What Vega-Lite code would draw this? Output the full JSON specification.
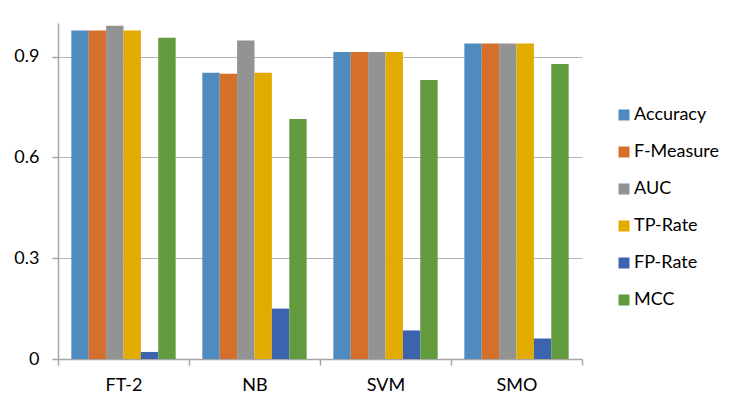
{
  "$schema": "https://vega.github.io/schema/vega-lite/v6.json",
  "width": 524,
  "height": 336,
  "autosize": {"type": "none"},
  "padding": {"left": 58, "top": 23, "right": 159, "bottom": 52},
  "background": "white",
  "data": {
    "values": [
      {"model": "FT-2", "metric": "Accuracy", "value": 0.978},
      {"model": "FT-2", "metric": "F-Measure", "value": 0.978},
      {"model": "FT-2", "metric": "AUC", "value": 0.992},
      {"model": "FT-2", "metric": "TP-Rate", "value": 0.978},
      {"model": "FT-2", "metric": "FP-Rate", "value": 0.021},
      {"model": "FT-2", "metric": "MCC", "value": 0.956},
      {"model": "NB", "metric": "Accuracy", "value": 0.852},
      {"model": "NB", "metric": "F-Measure", "value": 0.849},
      {"model": "NB", "metric": "AUC", "value": 0.948},
      {"model": "NB", "metric": "TP-Rate", "value": 0.852},
      {"model": "NB", "metric": "FP-Rate", "value": 0.150},
      {"model": "NB", "metric": "MCC", "value": 0.714},
      {"model": "SVM", "metric": "Accuracy", "value": 0.914},
      {"model": "SVM", "metric": "F-Measure", "value": 0.914},
      {"model": "SVM", "metric": "AUC", "value": 0.914},
      {"model": "SVM", "metric": "TP-Rate", "value": 0.914},
      {"model": "SVM", "metric": "FP-Rate", "value": 0.085},
      {"model": "SVM", "metric": "MCC", "value": 0.830},
      {"model": "SMO", "metric": "Accuracy", "value": 0.939},
      {"model": "SMO", "metric": "F-Measure", "value": 0.939},
      {"model": "SMO", "metric": "AUC", "value": 0.939},
      {"model": "SMO", "metric": "TP-Rate", "value": 0.939},
      {"model": "SMO", "metric": "FP-Rate", "value": 0.061},
      {"model": "SMO", "metric": "MCC", "value": 0.878}
    ]
  },
  "mark": {"type": "bar"},
  "encoding": {
    "x": {
      "field": "model", "type": "nominal", "sort": ["FT-2", "NB", "SVM", "SMO"],
      "scale": {"paddingInner": 0, "paddingOuter": 0},
      "axis": {
        "title": null, "labelAngle": 0, "tickBand": "extent",
        "domainColor": "#A6A6A6", "tickColor": "#A6A6A6", "tickSize": 6,
        "labelPadding": 11, "labelFont": "Lato", "labelFontSize": 18, "labelColor": "#000000",
        "grid": false
      }
    },
    "xOffset": {
      "field": "metric", "type": "nominal",
      "sort": ["Accuracy", "F-Measure", "AUC", "TP-Rate", "FP-Rate", "MCC"],
      "scale": {"paddingInner": 0, "paddingOuter": 0.767}
    },
    "y": {
      "field": "value", "type": "quantitative",
      "scale": {"domain": [0, 1], "nice": false},
      "axis": {
        "title": null, "values": [0, 0.3, 0.6, 0.9], "format": "~g",
        "domainColor": "#A6A6A6", "tickColor": "#A6A6A6", "tickSize": 6,
        "gridColor": "#B3B3B3", "labelPadding": 13,
        "labelFont": "Lato", "labelFontSize": 18, "labelColor": "#000000"
      }
    },
    "color": {
      "field": "metric", "type": "nominal",
      "sort": ["Accuracy", "F-Measure", "AUC", "TP-Rate", "FP-Rate", "MCC"],
      "scale": {
        "domain": ["Accuracy", "F-Measure", "AUC", "TP-Rate", "FP-Rate", "MCC"],
        "range": ["#508BC0", "#D4702B", "#939393", "#E2AB00", "#3C63AE", "#629A3E"]
      },
      "legend": {
        "title": null, "orient": "none", "legendX": 557, "legendY": 83,
        "symbolType": "square", "symbolSize": 121, "symbolStrokeWidth": 0,
        "labelFont": "Lato", "labelFontSize": 18, "labelColor": "#000000",
        "labelOffset": 1, "rowPadding": 19
      }
    }
  },
  "config": {
    "view": {"stroke": null},
    "axis": {"domainWidth": 1.5, "tickWidth": 1.5}
  }
}
